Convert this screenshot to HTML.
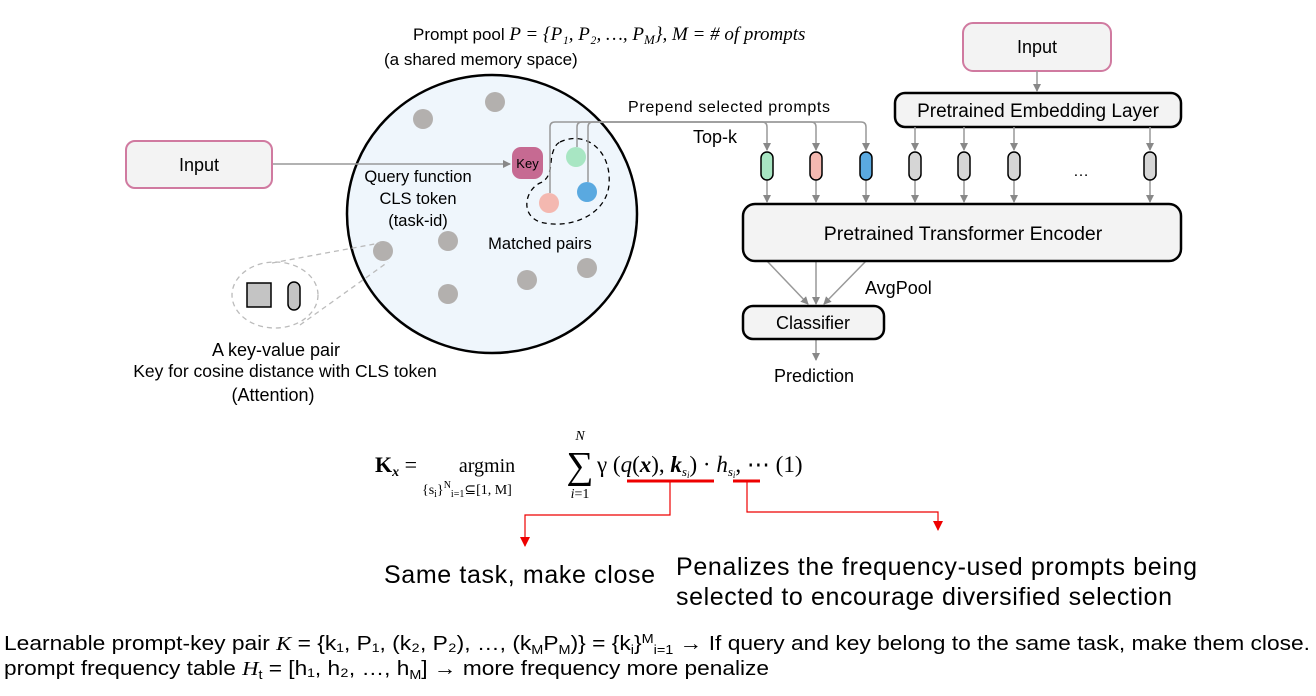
<!DOCTYPE html>
<html><head><meta charset="utf-8"><style>
body{margin:0;background:#fff;}
svg{display:block;font-family:"Liberation Sans",sans-serif;}
.m{font-family:"Liberation Serif",serif;}
</style></head><body>
<svg width="1316" height="696" viewBox="0 0 1316 696" xmlns="http://www.w3.org/2000/svg">
<defs>
<marker id="ag" markerWidth="8" markerHeight="8" refX="7" refY="4" orient="auto" markerUnits="userSpaceOnUse"><path d="M0,0 L8,4 L0,8 z" fill="#888"/></marker>
<marker id="ar" markerWidth="10" markerHeight="10" refX="9" refY="5" orient="auto" markerUnits="userSpaceOnUse"><path d="M0,0 L10,5 L0,10 z" fill="#e00"/></marker>
</defs>
<text x="413" y="40" font-size="17">Prompt pool <tspan class="m" font-style="italic" font-size="19">P = {P₁, P₂, …, P<tspan font-size="13" dy="4">M</tspan><tspan dy="-4">}, M = # of prompts</tspan></tspan></text>
<text x="384" y="65" font-size="17">(a shared memory space)</text>
<ellipse cx="492" cy="214" rx="145" ry="139" fill="#eff6fc" stroke="#000" stroke-width="2.5"/>
<g fill="#b3b0ae">
<circle cx="495" cy="102" r="10"/><circle cx="423" cy="119" r="10"/><circle cx="448" cy="241" r="10"/>
<circle cx="383" cy="251" r="10"/><circle cx="587" cy="268" r="10"/><circle cx="527" cy="280" r="10"/><circle cx="448" cy="294" r="10"/>
</g>
<path d="M560,142 C585,130 612,150 609,185 C606,215 570,230 540,222 C520,215 525,190 540,183 C552,178 550,165 552,155 C554,148 556,144 560,142 z" fill="none" stroke="#000" stroke-dasharray="5,4" stroke-width="1.3"/>
<circle cx="576" cy="157" r="10" fill="#a8e6c3"/>
<circle cx="587" cy="192" r="10" fill="#5aa9e0"/>
<circle cx="549" cy="203" r="10" fill="#f4b8b0"/>
<g fill="none" stroke="#999" stroke-width="1.5">
<path d="M550,193 V127 Q550,122 555,122 H861 Q866,122 866,127 V150" marker-end="url(#ag)"/>
<path d="M577,147 V127 Q577,122 582,122 H811 Q816,122 816,127 V150" marker-end="url(#ag)"/>
<path d="M588,182 V127 Q588,122 593,122 H762 Q767,122 767,127 V150" marker-end="url(#ag)"/>
<path d="M272,164 H510" marker-end="url(#ag)"/>
</g>
<rect x="512" y="147" width="31" height="32" rx="9" fill="#c66a92"/>
<text x="527.5" y="168" font-size="13" text-anchor="middle">Key</text>
<g font-size="16.5" text-anchor="middle">
<text x="418" y="182">Query function</text>
<text x="418" y="204">CLS token</text>
<text x="418" y="226">(task-id)</text>
<text x="540" y="249">Matched pairs</text>
</g>
<text x="628" y="112" font-size="16" textLength="202">Prepend selected prompts</text>
<text x="693" y="143" font-size="18">Top-k</text>
<rect x="126" y="141" width="146" height="47" rx="9" fill="#f3f3f3" stroke="#d07aa0" stroke-width="2"/>
<text x="199" y="171" font-size="18" text-anchor="middle">Input</text>
<g stroke="#bbb" stroke-dasharray="5,4" fill="none" stroke-width="1.3">
<ellipse cx="275" cy="295" rx="43" ry="33"/>
<path d="M272,263 L380,243"/><path d="M300,325 L388,262"/>
</g>
<rect x="247" y="283" width="24" height="24" fill="#c4c4c4" stroke="#000" stroke-width="1.5"/>
<rect x="288" y="282" width="12" height="28" rx="6" fill="#c4c4c4" stroke="#000" stroke-width="1.5"/>
<g font-size="18" text-anchor="middle">
<text x="276" y="356">A key-value pair</text>
<text x="285" y="377" font-size="17.5">Key for cosine distance with CLS token</text>
<text x="273" y="401">(Attention)</text>
</g>
<rect x="963" y="23" width="148" height="48" rx="10" fill="#f3f3f3" stroke="#d07aa0" stroke-width="2"/>
<text x="1037" y="53" font-size="18" text-anchor="middle">Input</text>
<path d="M1037,71 V91" stroke="#999" stroke-width="1.5" marker-end="url(#ag)"/>
<rect x="895" y="93" width="286" height="34" rx="10" fill="#f3f3f3" stroke="#000" stroke-width="2.5"/>
<text x="1038" y="117" font-size="19" text-anchor="middle">Pretrained Embedding Layer</text>
<g stroke="#999" stroke-width="1.5">
<path d="M915,127 V150" marker-end="url(#ag)"/><path d="M964,127 V150" marker-end="url(#ag)"/>
<path d="M1014,127 V150" marker-end="url(#ag)"/><path d="M1150,127 V150" marker-end="url(#ag)"/>
<path d="M767,180 V202" marker-end="url(#ag)"/><path d="M816,180 V202" marker-end="url(#ag)"/>
<path d="M866,180 V202" marker-end="url(#ag)"/><path d="M915,180 V202" marker-end="url(#ag)"/>
<path d="M964,180 V202" marker-end="url(#ag)"/><path d="M1014,180 V202" marker-end="url(#ag)"/>
<path d="M1150,180 V202" marker-end="url(#ag)"/>
<path d="M767,261 L808,304" marker-end="url(#ag)"/><path d="M816,261 V304" marker-end="url(#ag)"/>
<path d="M866,261 L824,304" marker-end="url(#ag)"/>
<path d="M816,339 V360" marker-end="url(#ag)"/>
</g>
<g stroke="#000" stroke-width="1.5">
<rect x="761" y="152" width="12" height="28" rx="6" fill="#a8e6c3"/>
<rect x="810" y="152" width="12" height="28" rx="6" fill="#f4b8b0"/>
<rect x="860" y="152" width="12" height="28" rx="6" fill="#5aa9e0"/>
<rect x="909" y="152" width="12" height="28" rx="6" fill="#d6d6d6"/>
<rect x="958" y="152" width="12" height="28" rx="6" fill="#d6d6d6"/>
<rect x="1008" y="152" width="12" height="28" rx="6" fill="#d6d6d6"/>
<rect x="1144" y="152" width="12" height="28" rx="6" fill="#d6d6d6"/>
</g>
<text x="1081" y="176" font-size="16" text-anchor="middle">…</text>
<rect x="743" y="204" width="438" height="57" rx="12" fill="#f3f3f3" stroke="#000" stroke-width="2.5"/>
<text x="963" y="240" font-size="19.5" text-anchor="middle">Pretrained Transformer Encoder</text>
<text x="865" y="294" font-size="18">AvgPool</text>
<rect x="743" y="306" width="141" height="33" rx="10" fill="#f3f3f3" stroke="#000" stroke-width="2.5"/>
<text x="813" y="329" font-size="18" text-anchor="middle">Classifier</text>
<text x="814" y="382" font-size="18" text-anchor="middle">Prediction</text>
<g class="m" font-size="22">
<text x="375" y="472" font-weight="bold">K<tspan font-size="14" dy="4" font-style="italic">x</tspan><tspan dy="-4" font-weight="normal"> =</tspan></text>
<text x="487" y="472" text-anchor="middle" font-size="20">argmin</text>
<text x="422" y="494" font-size="14">{s<tspan font-size="10" dy="3">i</tspan><tspan dy="-3">}</tspan><tspan font-size="10" dy="-6">N</tspan><tspan font-size="10" dy="9">i=1</tspan><tspan dy="-3">⊆[1, M]</tspan></text>
<text x="580" y="440" font-size="14" font-style="italic" text-anchor="middle">N</text>
<text x="580" y="478" font-size="38" text-anchor="middle">∑</text>
<text x="580" y="498" font-size="14" text-anchor="middle"><tspan font-style="italic">i</tspan>=1</text>
<text x="597" y="472" font-size="23">γ (<tspan font-style="italic">q</tspan>(<tspan font-weight="bold" font-style="italic">x</tspan>), <tspan font-weight="bold" font-style="italic">k</tspan><tspan font-size="13" dy="4" font-style="italic">s</tspan><tspan font-size="9" dy="2" font-style="italic">i</tspan><tspan dy="-6">) · </tspan><tspan font-style="italic">h</tspan><tspan font-size="13" dy="4" font-style="italic">s</tspan><tspan font-size="9" dy="2" font-style="italic">i</tspan><tspan dy="-6">,    ⋯ (1)</tspan></text>
</g>
<g stroke="#e00" fill="none">
<path d="M627,481 H714" stroke-width="3"/>
<path d="M733,481 H760" stroke-width="3"/>
<path d="M670,482 V515 H525 V546" stroke-width="1.2" marker-end="url(#ar)"/>
<path d="M747,482 V512 H938 V530" stroke-width="1.2" marker-end="url(#ar)"/>
</g>
<g font-size="25">
<text x="384" y="583" textLength="271">Same task, make close</text>
<text x="676" y="575" textLength="521">Penalizes the frequency-used prompts being</text>
<text x="676" y="605" textLength="496">selected to encourage diversified selection</text>
</g>
<g font-size="20.5">
<text x="4" y="650" textLength="1306" lengthAdjust="spacingAndGlyphs">Learnable prompt-key pair <tspan class="m" font-style="italic">K</tspan> = {k₁, P₁, (k₂, P₂), …, (k<tspan font-size="13" dy="4">M</tspan><tspan dy="-4">P</tspan><tspan font-size="13" dy="4">M</tspan><tspan dy="-4">)} = {k</tspan><tspan font-size="13" dy="4">i</tspan><tspan dy="-4">}</tspan><tspan font-size="13" dy="-7">M</tspan><tspan font-size="13" dy="11">i=1</tspan><tspan dy="-4"> → If query and key belong to the same task, make them close.</tspan></text>
<text x="4" y="675" textLength="765" lengthAdjust="spacingAndGlyphs">prompt frequency table <tspan class="m" font-style="italic">H</tspan><tspan font-size="13" dy="4">t</tspan><tspan dy="-4"> = [h₁, h₂, …, h</tspan><tspan font-size="13" dy="4">M</tspan><tspan dy="-4">] → more frequency more penalize</tspan></text>
</g>
</svg>
</body></html>
